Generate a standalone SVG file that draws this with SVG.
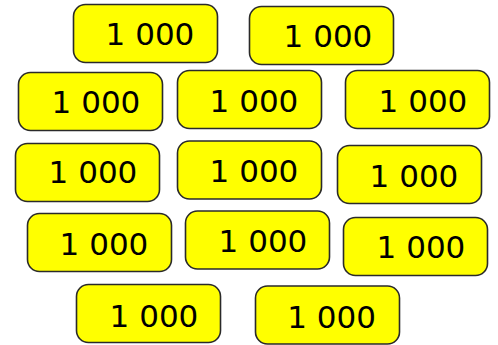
<svg xmlns="http://www.w3.org/2000/svg" width="498" height="345" viewBox="0 0 498 345">
<style>
.b{fill:#ffff00;stroke:#2a2a2a;stroke-width:1.6}
.t{font-family:"DejaVu Sans",Verdana,sans-serif;font-size:31px;fill:#000}
</style>
<defs>
<rect id="r" class="b" x="0" y="0" width="144" height="58" rx="12" ry="12"/>
</defs>
<rect width="498" height="345" fill="#fff"/>
<g id="nA"><use href="#r" x="73.5" y="4.5"/><text class="t" x="105.6" y="45">1 000</text></g>
<g id="nB"><use href="#r" x="249.5" y="6.5"/><text class="t" x="283.6" y="46.7">1 000</text></g>
<g id="nC"><use href="#r" x="18.5" y="72.5"/><text class="t" x="51.6" y="113">1 000</text></g>
<g id="nD"><use href="#r" x="177.5" y="70.5"/><text class="t" x="209.6" y="111.7">1 000</text></g>
<g id="nE"><use href="#r" x="345.5" y="70.5"/><text class="t" x="378.6" y="111.7">1 000</text></g>
<g id="nF"><use href="#r" x="15.5" y="143.5"/><text class="t" x="48.6" y="183.3">1 000</text></g>
<g id="nG"><use href="#r" x="177.5" y="141"/><text class="t" x="209.6" y="181.7">1 000</text></g>
<g id="nH"><use href="#r" x="337.5" y="145.5"/><text class="t" x="369.6" y="186.7">1 000</text></g>
<g id="nI"><use href="#r" x="27.5" y="213.5"/><text class="t" x="59.6" y="255">1 000</text></g>
<g id="nJ"><use href="#r" x="185.5" y="211"/><text class="t" x="218.6" y="251.7">1 000</text></g>
<g id="nK"><use href="#r" x="343.5" y="217.5"/><text class="t" x="376.6" y="258.3">1 000</text></g>
<g id="nL"><use href="#r" x="76.5" y="284.5"/><text class="t" x="109.6" y="326.7">1 000</text></g>
<g id="nM"><use href="#r" x="255.5" y="286"/><text class="t" x="287.3" y="327.7">1 000</text></g>
<g id="connectors"></g>
</svg>
